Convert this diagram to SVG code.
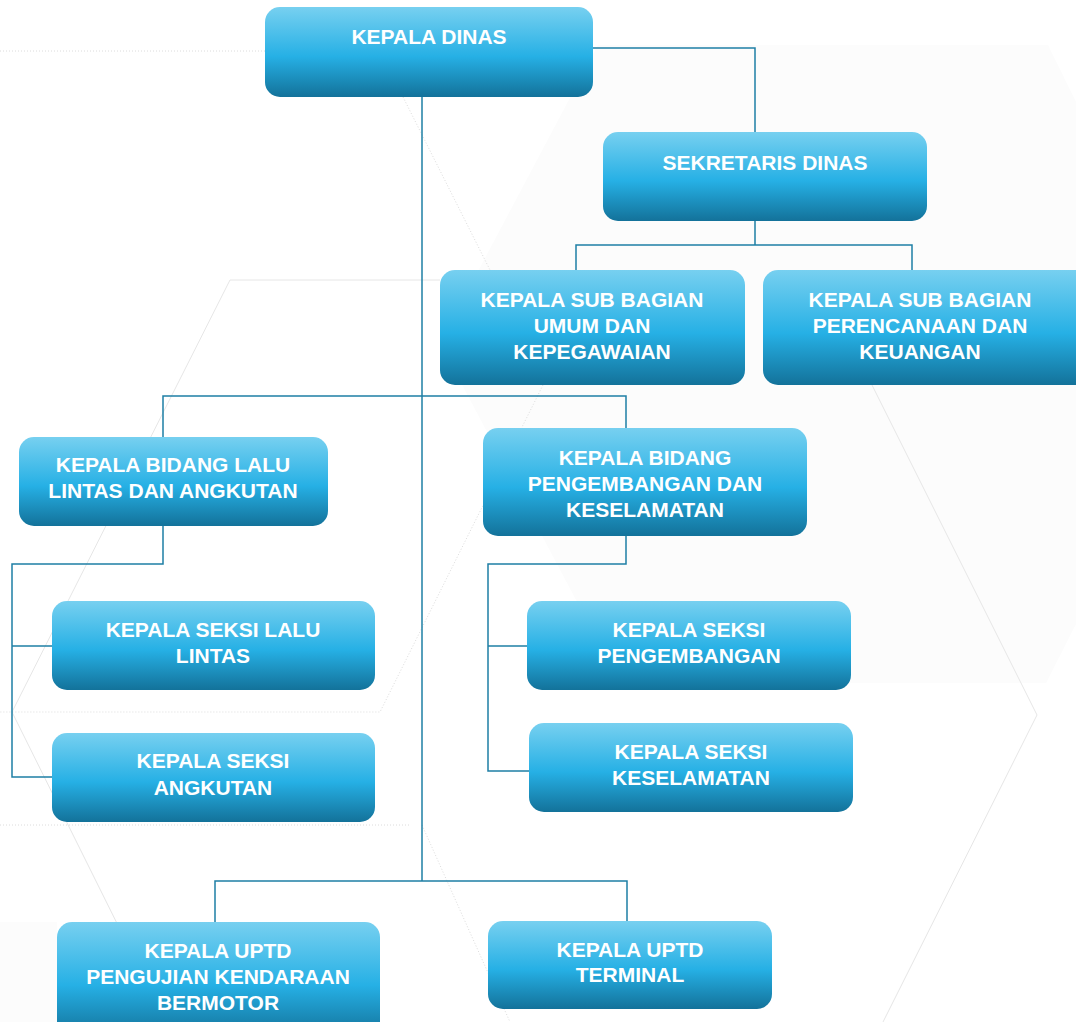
<svg xmlns="http://www.w3.org/2000/svg" width="1076" height="1022" viewBox="0 0 1076 1022">
<defs>
<linearGradient id="bx" x1="0" y1="0" x2="0" y2="1">
<stop offset="0" stop-color="#77d0f0"/>
<stop offset="0.55" stop-color="#26b0e5"/>
<stop offset="1" stop-color="#13729a"/>
</linearGradient>
<style>
.box{fill:url(#bx);}
.t{font-family:"Liberation Sans",Arial,sans-serif;font-weight:bold;font-size:21px;fill:#ffffff;text-anchor:middle;}
.c{fill:none;stroke:#1e7fa5;stroke-width:1.5;}
.bg{fill:none;stroke:#e6e6e6;stroke-width:1;}
.bd{fill:none;stroke:#dcdcdc;stroke-width:1;stroke-dasharray:1 2;}
</style>
</defs>
<rect width="1076" height="1022" fill="#ffffff"/>
<g id="background">
<polygon points="598,45 1048,45 1076,102 1076,624 1046,683 620,683 440,343" fill="#fcfcfc"/>
<polygon points="0,922 57,922 57,1022 0,1022" fill="#fcfcfc"/>
<polyline class="bg" points="440,280 230,280 12,712 166,1022"/>
<polyline class="bg" points="872,385 1037,715 883,1022"/>
<line class="bd" x1="0" y1="51" x2="265" y2="51"/>
<line class="bd" x1="403" y1="97" x2="490" y2="270"/>
<polyline class="bd" points="543,385 380,712 0,712"/>
<line class="bd" x1="0" y1="825" x2="410" y2="825"/>
<line class="bd" x1="422" y1="825" x2="510" y2="1022"/>
</g>
<g id="connectors">
<polyline class="c" points="593,48 755,48 755,132"/>
<line class="c" x1="422" y1="97" x2="422" y2="881"/>
<line class="c" x1="755" y1="221" x2="755" y2="245"/>
<polyline class="c" points="576,270 576,245 912,245 912,270"/>
<polyline class="c" points="163,437 163,396 626,396 626,428"/>
<polyline class="c" points="163,525 163,564 12,564 12,777 52,777"/>
<line class="c" x1="12" y1="646" x2="52" y2="646"/>
<polyline class="c" points="626,536 626,564 488,564 488,771 529,771"/>
<line class="c" x1="488" y1="646" x2="527" y2="646"/>
<polyline class="c" points="215,922 215,881 627,881 627,921"/>
</g>
<g id="kepala-dinas">
<rect class="box" x="265" y="7" width="328" height="90" rx="15"/>
<text class="t" x="429" y="44">KEPALA DINAS</text>
</g>
<g id="sekretaris-dinas">
<rect class="box" x="603" y="132" width="324" height="89" rx="15"/>
<text class="t" x="765" y="170">SEKRETARIS DINAS</text>
</g>
<g id="kasubag-umum">
<rect class="box" x="440" y="270" width="305" height="115" rx="15"/>
<text class="t" x="592" y="307">KEPALA SUB BAGIAN</text>
<text class="t" x="592" y="333">UMUM DAN</text>
<text class="t" x="592" y="359">KEPEGAWAIAN</text>
</g>
<g id="kasubag-perencanaan">
<rect class="box" x="763" y="270" width="330" height="115" rx="15"/>
<text class="t" x="920" y="307">KEPALA SUB BAGIAN</text>
<text class="t" x="920" y="333">PERENCANAAN DAN</text>
<text class="t" x="920" y="359">KEUANGAN</text>
</g>
<g id="kabid-lalu-lintas">
<rect class="box" x="19" y="437" width="309" height="89" rx="15"/>
<text class="t" x="173" y="472">KEPALA BIDANG LALU</text>
<text class="t" x="173" y="498">LINTAS DAN ANGKUTAN</text>
</g>
<g id="kabid-pengembangan">
<rect class="box" x="483" y="428" width="324" height="108" rx="15"/>
<text class="t" x="645" y="465">KEPALA BIDANG</text>
<text class="t" x="645" y="491">PENGEMBANGAN DAN</text>
<text class="t" x="645" y="517">KESELAMATAN</text>
</g>
<g id="kasi-lalu-lintas">
<rect class="box" x="52" y="601" width="323" height="89" rx="15"/>
<text class="t" x="213" y="637">KEPALA SEKSI LALU</text>
<text class="t" x="213" y="663">LINTAS</text>
</g>
<g id="kasi-angkutan">
<rect class="box" x="52" y="733" width="323" height="89" rx="15"/>
<text class="t" x="213" y="768">KEPALA SEKSI</text>
<text class="t" x="213" y="795">ANGKUTAN</text>
</g>
<g id="kasi-pengembangan">
<rect class="box" x="527" y="601" width="324" height="89" rx="15"/>
<text class="t" x="689" y="637">KEPALA SEKSI</text>
<text class="t" x="689" y="663">PENGEMBANGAN</text>
</g>
<g id="kasi-keselamatan">
<rect class="box" x="529" y="723" width="324" height="89" rx="15"/>
<text class="t" x="691" y="759">KEPALA SEKSI</text>
<text class="t" x="691" y="785">KESELAMATAN</text>
</g>
<g id="uptd-pengujian">
<rect class="box" x="57" y="922" width="323" height="115" rx="15"/>
<text class="t" x="218" y="958">KEPALA UPTD</text>
<text class="t" x="218" y="984">PENGUJIAN KENDARAAN</text>
<text class="t" x="218" y="1010">BERMOTOR</text>
</g>
<g id="uptd-terminal">
<rect class="box" x="488" y="921" width="284" height="88" rx="15"/>
<text class="t" x="630" y="957">KEPALA UPTD</text>
<text class="t" x="630" y="982">TERMINAL</text>
</g>
</svg>
